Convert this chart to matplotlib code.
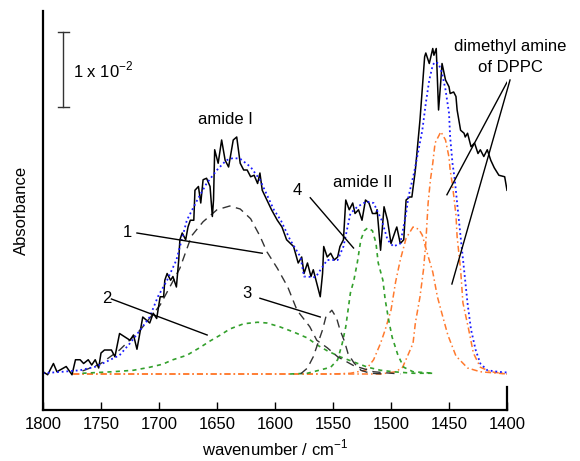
import numpy as np
import matplotlib.pyplot as plt

plt.rcParams['font.family'] = ['Liberation Sans', 'DejaVu Sans']
plt.rcParams['mathtext.fontset'] = 'custom'
plt.rcParams['mathtext.rm'] = 'Liberation Sans'

# measured spectrum (absorbance, units of 1e-3, baseline = 0)
wn_meas = [1800, 1796, 1791, 1788, 1780, 1775, 1772, 1768, 1765, 1761, 1758, 1755,
           1752, 1750, 1747, 1741, 1738, 1734, 1730, 1725, 1722, 1719, 1716, 1714,
           1711, 1708, 1705, 1702, 1699, 1696, 1695, 1693, 1690, 1688, 1685, 1683,
           1682, 1680, 1677, 1675, 1673, 1670, 1669, 1666, 1664, 1662, 1659, 1656,
           1654, 1653, 1652, 1649, 1646, 1643, 1640, 1636, 1633, 1630, 1627, 1624,
           1621, 1618, 1615, 1613, 1611, 1607, 1603, 1598, 1594, 1590, 1584, 1580,
           1577, 1575, 1572, 1569, 1567, 1564, 1561, 1559, 1558, 1555, 1552, 1549,
           1546, 1544, 1541, 1539, 1536, 1533, 1531, 1528, 1525, 1522, 1519, 1516,
           1513, 1512, 1509, 1506, 1503, 1500, 1496, 1495, 1492, 1489, 1487, 1484,
           1482, 1479, 1475, 1471, 1470, 1467, 1464, 1463, 1461, 1459, 1457, 1456,
           1453, 1450, 1449, 1446, 1444, 1443, 1440, 1437, 1436, 1434, 1431, 1428,
           1425, 1423, 1420, 1417, 1414, 1411, 1407, 1402, 1400]
a_meas = [0.3, -0.1, 1.4, 0.3, 1.0, -0.1, 1.9, 1.9, 1.4, 1.9, 1.2, 1.9,
          0.8, 2.8, 3.2, 3.2, 2.3, 5.4, 5.0, 4.5, 5.2, 3.3, 5.9, 7.6,
          7.2, 6.8, 8.1, 7.4, 10.3, 10.3, 12.5, 13.4, 12.5, 13.0, 11.6, 15.2,
          17.9, 18.8, 17.9, 19.6, 20.5, 20.5, 24.5, 25.0, 22.8, 25.9, 26.1, 25.0,
          21.0, 23.2, 29.9, 28.1, 31.2, 28.5, 27.6, 31.2, 31.6, 28.1, 27.2, 27.2,
          26.3, 26.5, 25.4, 26.8, 24.5, 23.2, 21.9, 20.5, 19.6, 17.9, 17.0, 14.8,
          15.6, 13.4, 14.8, 13.0, 13.9, 12.1, 10.3, 13.4, 17.0, 15.6, 16.1, 15.2,
          15.6, 17.0, 17.9, 23.2, 21.9, 22.8, 21.4, 21.9, 20.5, 23.2, 22.8, 21.4,
          21.4, 21.9, 16.5, 22.3, 20.5, 17.4, 19.2, 19.6, 17.4, 17.9, 23.2, 23.6,
          23.6, 27.2, 33.9, 42.3, 42.8, 41.4, 43.4, 42.5, 43.4, 35.2, 39.2, 41.4,
          39.2, 38.3, 37.4, 37.6, 37.0, 35.2, 32.5, 32.1, 31.6, 32.1, 30.3, 30.8,
          29.4, 29.9, 29.0, 29.9, 28.5, 27.5, 26.5, 26.3, 24.5]

# fitted sum
wn_fit = [1800, 1783, 1768, 1754, 1742, 1734, 1725, 1716, 1708, 1701, 1693, 1685,
          1676, 1667, 1659, 1650, 1642, 1636, 1630, 1621, 1613, 1601, 1595, 1587,
          1578, 1575, 1565, 1559, 1555, 1546, 1541, 1535, 1529, 1521, 1515, 1508,
          1503, 1498, 1492, 1487, 1485, 1480, 1473, 1470, 1467, 1464, 1462, 1459,
          1456, 1453, 1450, 1449, 1447, 1445, 1443, 1440, 1437, 1434, 1431, 1427,
          1423, 1417, 1408, 1400]
a_fit = [0.1, 0.3, 0.5, 1.0, 1.9, 2.5, 4.1, 5.9, 7.6, 10.3, 12.5, 15.2,
         20.5, 23.2, 25.4, 27.2, 28.5, 28.8, 28.7, 27.6, 25.9, 21.9, 20.5, 17.9,
         15.6, 13.0, 12.9, 14.3, 15.2, 15.2, 17.0, 21.4, 22.3, 23.0, 22.8, 20.5,
         17.9, 17.0, 17.4, 21.4, 23.6, 26.9, 32.5, 36.1, 39.2, 41.2, 41.6, 41.4,
         40.1, 37.9, 34.8, 31.6, 28.1, 25.9, 22.8, 18.3, 13.9, 9.4, 5.9, 3.2,
         1.4, 0.5, 0.3, 0.2]

# component bands
wn_b1 = [1766, 1751, 1734, 1716, 1699, 1682, 1672, 1662, 1650, 1639, 1630, 1621,
         1613, 1607, 1598, 1589, 1581, 1570, 1564, 1555, 1546, 1532, 1515, 1492]
a_b1 = [0.4, 1.3, 3.2, 5.9, 9.2, 14.1, 18.4, 20.3, 21.9, 22.4, 22.0, 20.7,
        18.4, 16.3, 14.1, 11.6, 8.5, 6.3, 4.5, 3.5, 2.3, 1.1, 0.3, 0.0]

wn_b3 = [1578, 1572, 1567, 1563, 1559, 1556, 1551, 1547, 1544, 1540, 1537, 1532,
         1526, 1518, 1505]
a_b3 = [0.0, 0.8, 2.3, 4.1, 5.9, 7.7, 8.5, 7.5, 5.9, 4.3, 2.7, 1.5, 0.5, 0.1, 0.0]

wn_b2 = [1766, 1740, 1722, 1708, 1697, 1688, 1676, 1665, 1656, 1647, 1639, 1627,
         1615, 1607, 1596, 1584, 1572, 1564, 1555, 1544, 1532, 1520, 1509, 1498,
         1481, 1463]
a_b2 = [0.1, 0.3, 0.5, 0.9, 1.3, 1.9, 2.5, 3.5, 4.4, 5.2, 6.0, 6.7,
        6.9, 6.8, 6.3, 5.6, 4.8, 3.9, 3.1, 2.3, 1.6, 0.9, 0.5, 0.3, 0.1, 0.1]

wn_b4 = [1587, 1572, 1552, 1546, 1542, 1539, 1535, 1532, 1529, 1526, 1523, 1520,
         1516, 1513, 1511, 1507, 1505, 1502, 1499, 1494, 1489, 1481, 1463]
a_b4 = [0.0, 0.1, 0.9, 1.9, 4.1, 6.3, 10.8, 12.5, 14.9, 17.9, 19.1, 19.5,
        19.1, 17.5, 14.8, 12.5, 9.9, 7.2, 4.9, 2.5, 0.9, 0.3, 0.1]

wn_b5 = [1774, 1550, 1535, 1522, 1515, 1509, 1505, 1500, 1496, 1492, 1487, 1481,
         1476, 1473, 1468, 1464, 1460, 1456, 1451, 1444, 1434, 1423, 1400]
a_b5 = [0.0, 0.0, 0.1, 0.5, 1.9, 4.1, 5.9, 8.5, 12.3, 15.2, 18.1, 19.6,
        19.3, 18.5, 15.7, 13.6, 10.3, 8.0, 5.2, 2.4, 0.8, 0.3, 0.0]

wn_b6 = [1774, 1509, 1496, 1490, 1486, 1481, 1479, 1475, 1472, 1470, 1468, 1466,
         1464, 1462, 1457, 1453, 1450, 1449, 1447, 1444, 1443, 1440, 1438, 1433,
         1429, 1423, 1414, 1400]
a_b6 = [0.0, 0.0, 0.3, 0.9, 2.3, 4.1, 6.8, 10.3, 13.9, 17.5, 22.8, 25.9,
        28.1, 30.8, 32.3, 31.2, 28.9, 27.2, 25.2, 21.2, 18.3, 13.9, 9.5, 5.9,
        2.8, 0.9, 0.3, 0.0]

fig = plt.figure(figsize=(5.8, 4.61), dpi=100)
ax = fig.add_axes([43 / 580, 51 / 461, 464 / 580, 399 / 461])

gray = '#333333'
green = '#33a02c'
orange = '#ff7a2e'

ax.plot(wn_b5, a_b5, color=orange, lw=1.1, dashes=(4, 2, 1, 2))
ax.plot(wn_b6, a_b6, color=orange, lw=1.1, dashes=(4, 2, 1, 2))
ax.plot(wn_b2, a_b2, color=green, lw=1.2, dashes=(2.5, 2.5))
ax.plot(wn_b4, a_b4, color=green, lw=1.2, dashes=(2.5, 2.5))
ax.plot(wn_b1, a_b1, color=gray, lw=1.0, dashes=(6, 4))
ax.plot(wn_b3, a_b3, color=gray, lw=1.0, dashes=(6, 4))
ax.plot(wn_meas, a_meas, color='black', lw=1.1)
ax.plot(wn_fit, a_fit, color='#1a1aff', lw=1.3, dashes=(1, 1.6))

ax.set_xlim(1800, 1400)
ax.set_ylim(-4.8, 48.4)
ax.set_xticks(np.arange(1800, 1399, -50))
ax.set_yticks([])
ax.tick_params(axis='x', direction='in', length=6, width=1, labelsize=12, pad=5)
for s in ['top']:
    ax.spines[s].set_visible(False)
ax.spines['right'].set_bounds(-4.8, -1.7)
for s in ['left', 'bottom', 'right']:
    ax.spines[s].set_linewidth(1.6)

ax.set_xlabel('wavenumber / cm$^{\\mathregular{-1}}$', fontsize=12, labelpad=4)
ax.set_ylabel('Absorbance', fontsize=12, labelpad=10)

# scale bar
ax.plot([1782.6, 1782.6], [35.6, 45.6], color=gray, lw=1)
ax.plot([1787.5, 1777.5], [45.6, 45.6], color=gray, lw=1)
ax.plot([1787.5, 1777.5], [35.6, 35.6], color=gray, lw=1)
ax.text(1774, 40.5, '1 x 10$^{\\mathregular{-2}}$', fontsize=12, va='center')

ax.text(1643, 33.9, 'amide I', fontsize=12, ha='center', va='center')
ax.text(1524, 25.5, 'amide II', fontsize=12, ha='center', va='center')
ax.text(1397, 43.6, 'dimethyl amine', fontsize=12, ha='center', va='center', clip_on=False)
ax.text(1397, 40.9, 'of DPPC', fontsize=12, ha='center', va='center', clip_on=False)

ax.text(1727.5, 18.9, '1', fontsize=12, ha='center', va='center')
ax.plot([1719, 1611], [18.8, 16.1], color='black', lw=1)
ax.text(1745, 10.1, '2', fontsize=12, ha='center', va='center')
ax.plot([1741, 1658.5], [10.0, 5.2], color='black', lw=1)
ax.text(1624, 10.8, '3', fontsize=12, ha='center', va='center')
ax.plot([1613, 1561], [10.1, 7.6], color='black', lw=1)
ax.text(1581, 24.5, '4', fontsize=12, ha='center', va='center')
ax.plot([1569.6, 1532.3], [23.5, 16.8], color='black', lw=1)
ax.plot([1400, 1451.8], [38.9, 23.9], color='black', lw=1)
ax.plot([1397.4, 1447.5], [39.2, 12.0], color='black', lw=1, clip_on=False)

fig.savefig('out.png', dpi=100)
